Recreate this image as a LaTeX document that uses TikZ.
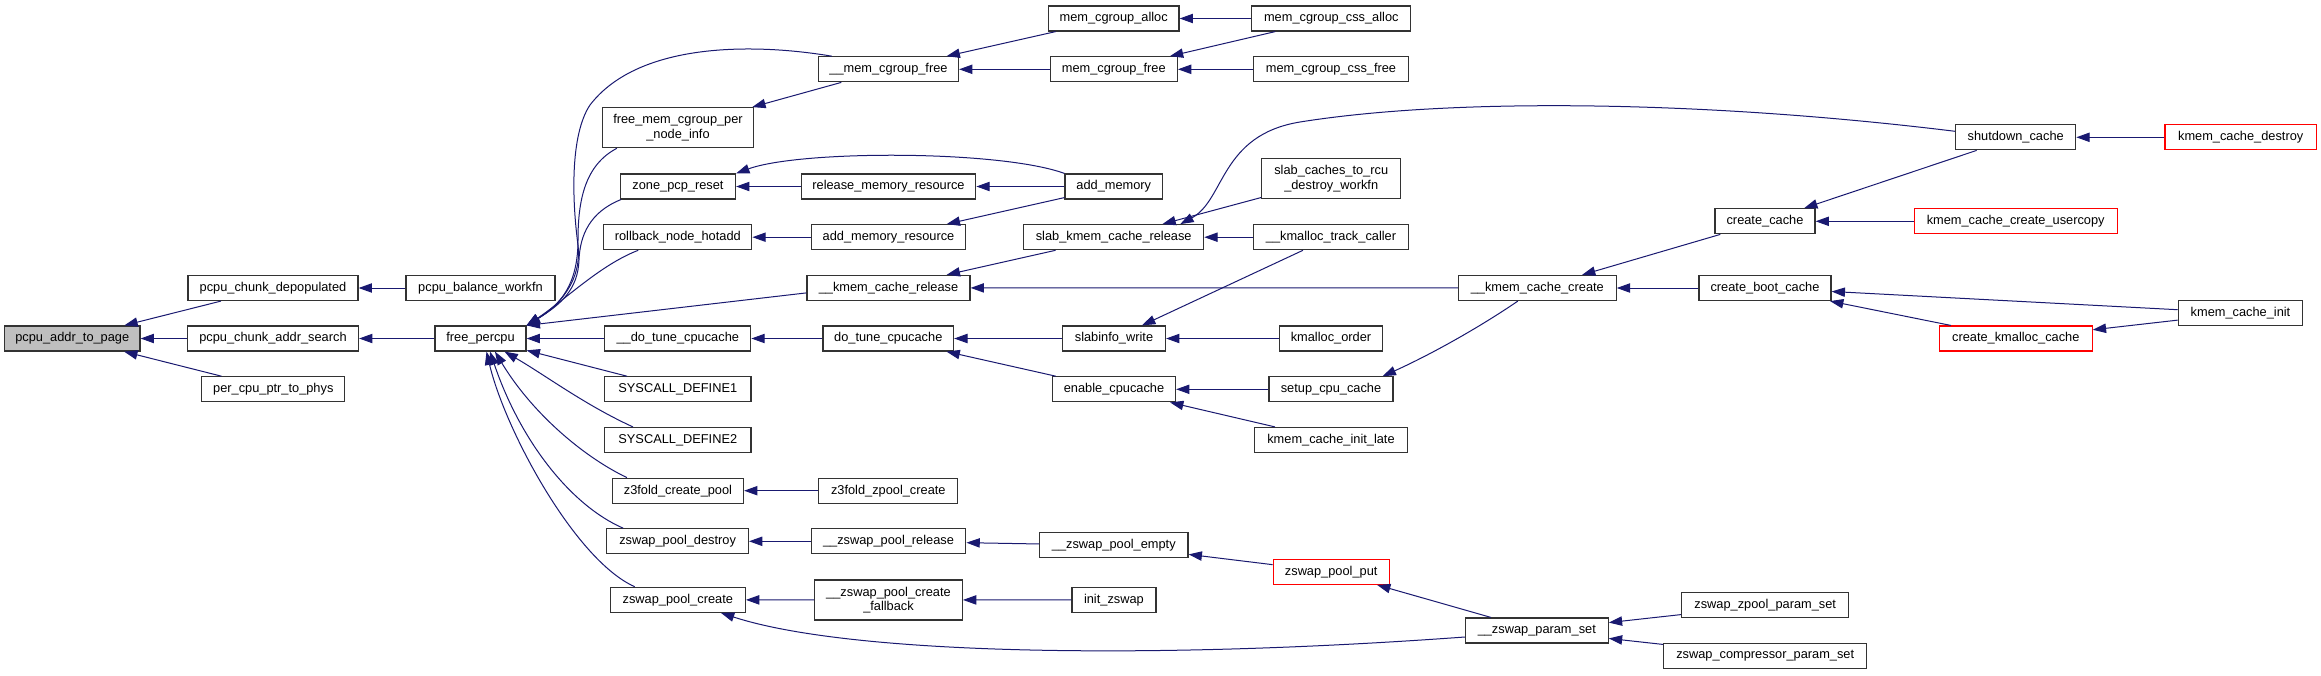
\documentclass[tikz,border=0pt]{standalone}
\usepackage{fontspec}
\setmainfont{Liberation Sans}
\usetikzlibrary{arrows.meta,calc}
\definecolor{fnedge}{HTML}{191970}
\definecolor{fnline}{HTML}{333333}
\definecolor{fnred}{HTML}{FF0000}
\definecolor{fngray}{HTML}{BFBFBF}
\tikzset{
  % One box per function; the root is grey, truncated callers are red.
  fn/.style     = {rectangle, draw=fnline, line width=0.9pt, fill=white, align=center,
                   inner sep=1pt, font=\fontsize{9.6}{10.8}\selectfont, minimum height=18.75pt},
  fnroot/.style = {fn, fill=fngray},
  fnlost/.style = {fn, draw=fnred},
  call/.style   = {-{Triangle[length=10pt,width=7pt]}, draw=fnedge, line width=0.75pt},
}

\begin{document}
\begin{tikzpicture}[x=0.75pt, y=-0.75pt]
\fill[white] (0,0) rectangle (2321,675);
\useasboundingbox (0,0) rectangle (2321,675);
% column 0 and 1
\node[fnroot, minimum width=101.6pt] (addr)     at (72.3,338.5)  {pcpu\_addr\_to\_page};
\node[fn, minimum width=127.5pt] (depop)        at (273,288)     {pcpu\_chunk\_depopulated};
\node[fn, minimum width=128.3pt] (search)       at (273,338.5)   {pcpu\_chunk\_addr\_search};
\node[fn, minimum width=107.3pt] (phys)         at (273.3,389.3) {per\_cpu\_ptr\_to\_phys};
\node[fn, minimum width=111.8pt] (balance)      at (480.5,288)   {pcpu\_balance\_workfn};
\node[fn, minimum width=68.3pt]  (freepcpu)     at (480.5,338.5) {free\_percpu};
% column 3
\node[fn, minimum width=113.3pt, minimum height=30pt] (pernode) at (678,127.7) {free\_mem\_cgroup\_per\\\_node\_info};
\node[fn, minimum width=86.3pt]  (zone)         at (678,186.5)   {zone\_pcp\_reset};
\node[fn, minimum width=111pt]   (rollback)     at (677.8,237.2) {rollback\_node\_hotadd};
\node[fn, minimum width=109.5pt] (dotune2)      at (677.8,338.5) {\_\_do\_tune\_cpucache};
\node[fn, minimum width=109.9pt] (sys1)         at (677.8,389.3) {SYSCALL\_DEFINE1};
\node[fn, minimum width=109.9pt] (sys2)         at (677.8,440)   {SYSCALL\_DEFINE2};
\node[fn, minimum width=98.3pt]  (z3create)     at (678,490.7)   {z3fold\_create\_pool};
\node[fn, minimum width=106.2pt] (zpdestroy)    at (677.6,541.3) {zswap\_pool\_destroy};
\node[fn, minimum width=101.3pt] (zpcreate)     at (677.8,599.8) {zswap\_pool\_create};
% column 4
\node[fn, minimum width=105pt]   (memfree2)     at (888.5,69.3)  {\_\_mem\_cgroup\_free};
\node[fn, minimum width=130.9pt] (relmem)       at (888.5,186.5) {release\_memory\_resource};
\node[fn, minimum width=116pt]   (addres)       at (888.5,237.2) {add\_memory\_resource};
\node[fn, minimum width=122.3pt] (kcrel)        at (888.5,287.9) {\_\_kmem\_cache\_release};
\node[fn, minimum width=97.9pt]  (dotune)       at (888.3,338.5) {do\_tune\_cpucache};
\node[fn, minimum width=104.3pt] (z3zpool)      at (888.3,490.7) {z3fold\_zpool\_create};
\node[fn, minimum width=116pt]   (zprel)        at (888.5,541.3) {\_\_zswap\_pool\_release};
\node[fn, minimum width=110.8pt, minimum height=30pt] (zpfallback) at (888.5,600) {\_\_zswap\_pool\_create\\\_fallback};
% column 5
\node[fn, minimum width=98pt]    (memalloc)     at (1113.7,18.5) {mem\_cgroup\_alloc};
\node[fn, minimum width=95.3pt]  (memfree)      at (1113.8,69.3) {mem\_cgroup\_free};
\node[fn, minimum width=73.2pt]  (addmem)       at (1113.8,186.5) {add\_memory};
\node[fn, minimum width=135pt]   (slabrel)      at (1113.7,237.2) {slab\_kmem\_cache\_release};
\node[fn, minimum width=77.3pt]  (slabinfo)     at (1114,338.5)  {slabinfo\_write};
\node[fn, minimum width=92.3pt]  (enable)       at (1114,389.3)  {enable\_cpucache};
\node[fn, minimum width=111.3pt] (zpempty)      at (1113.8,545.3) {\_\_zswap\_pool\_empty};
\node[fn, minimum width=63pt]    (initz)        at (1113.9,599.8) {init\_zswap};
% column 6
\node[fn, minimum width=119.3pt] (cssalloc)     at (1331.3,18.5) {mem\_cgroup\_css\_alloc};
\node[fn, minimum width=116pt]   (cssfree)      at (1331,69.3)   {mem\_cgroup\_css\_free};
\node[fn, minimum width=104.3pt, minimum height=30pt] (rcuwork) at (1331.2,178.7) {slab\_caches\_to\_rcu\\\_destroy\_workfn};
\node[fn, minimum width=116pt]   (kmtrack)      at (1331,237.2)  {\_\_kmalloc\_track\_caller};
\node[fn, minimum width=76.9pt]  (kmorder)      at (1331,338.5)  {kmalloc\_order};
\node[fn, minimum width=93pt]    (setupcpu)     at (1331,389.3)  {setup\_cpu\_cache};
\node[fn, minimum width=114.2pt] (initlate)     at (1331,440)    {kmem\_cache\_init\_late};
\node[fnlost, minimum width=87pt] (zpput)       at (1331.2,571.8) {zswap\_pool\_put};
% column 7 and 8
\node[fn, minimum width=118.3pt] (kccreate)     at (1537.3,288)  {\_\_kmem\_cache\_create};
\node[fn, minimum width=107.1pt] (zparam)       at (1536.8,630.5) {\_\_zswap\_param\_set};
\node[fn, minimum width=75pt]    (createcache)  at (1765,221.3)  {create\_cache};
\node[fn, minimum width=99pt]    (bootcache)    at (1765,288)    {create\_boot\_cache};
\node[fn, minimum width=125.3pt] (zpoolparam)   at (1765.2,605.3) {zswap\_zpool\_param\_set};
\node[fn, minimum width=152.3pt] (compparam)    at (1765.2,655.7) {zswap\_compressor\_param\_set};
% column 9 and 10
\node[fn, minimum width=90pt]    (shutdown)     at (2015.7,137.3) {shutdown\_cache};
\node[fnlost, minimum width=152.3pt] (usercopy) at (2015.7,221.3) {kmem\_cache\_create\_usercopy};
\node[fnlost, minimum width=114.5pt] (kmcache)  at (2015.8,338.5) {create\_kmalloc\_cache};
\node[fnlost, minimum width=113.7pt] (kcdestroy) at (2240.7,137.3) {kmem\_cache\_destroy};
\node[fn, minimum width=93.3pt]  (kcinit)       at (2240.5,313)  {kmem\_cache\_init};

% calls into the pcpu helpers
\draw[call] (depop) -- (addr);
\draw[call] (search) -- (addr);
\draw[call] (phys) -- (addr);
\draw[call] (balance) -- (depop);
\draw[call] (freepcpu) -- (search);
% callers of free_percpu
\draw[call] ($(memfree2.north west)+(14,0)$) .. controls (760,44) and (640,40) .. (590,105)
  .. controls (570,135) and (572,200) .. (578,245) .. controls (582,280) and (560,305) .. (freepcpu.north east);
\draw[call] ($(pernode.south west)+(15,0)$) .. controls (585,165) and (578,200) .. (578,240)
  .. controls (578,285) and (560,305) .. (freepcpu.north east);
\draw[call] ($(zone.south west)+(1,0)$) .. controls (590,212) and (580,235) .. (579,260)
  .. controls (578,290) and (560,305) .. (freepcpu.north east);
\draw[call] ($(rollback.south west)+(35,0)$) .. controls (600,265) and (565,300) .. (freepcpu.north east);
\draw[call] ($(kcrel.west)+(0,5)$) -- (freepcpu.north east);
\draw[call] (dotune2) -- (freepcpu);
\draw[call] (sys1) -- (freepcpu);
\draw[call] ($(sys2.north west)+(29,0)$) .. controls (585,405) and (545,375) .. ($(freepcpu.south)+(24,0)$);
\draw[call] ($(z3create.north west)+(15,0)$) .. controls (580,455) and (530,410) .. ($(freepcpu.south)+(14.5,0)$);
\draw[call] ($(zpdestroy.north west)+(17,0)$) .. controls (570,505) and (520,440) .. ($(freepcpu.south)+(9.5,0)$);
\draw[call] ($(zpcreate.north west)+(25,0)$) .. controls (575,560) and (505,430) .. ($(freepcpu.south)+(6,0)$);
% memcg branch
\draw[call] (memalloc) -- (memfree2);
\draw[call] (memfree) -- (memfree2);
\draw[call] (memfree2) -- (pernode);
\draw[call] (cssalloc) -- (memalloc);
\draw[call] (cssalloc) -- (memfree);
\draw[call] (cssfree) -- (memfree);
% memory hotplug branch
\draw[call] (addmem.north west) .. controls (1000,150) and (800,150) .. (zone.north east);
\draw[call] (relmem) -- (zone);
\draw[call] (addmem) -- (relmem);
\draw[call] (addmem) -- (addres);
\draw[call] (addres) -- (rollback);
% slab branch
\draw[call] (slabrel) -- (kcrel);
\draw[call] (kccreate) -- (kcrel);
\draw[call] ($(shutdown.west)+(0,-6)$) .. controls (1700,100) and (1450,98) .. (1300,122)
  .. controls (1220,135) and (1225,200) .. ($(slabrel.north east)+(-24,0)$);
\draw[call] (rcuwork) -- (slabrel);
\draw[call] (kmtrack) -- (slabrel);
\draw[call] (kmtrack) -- (slabinfo);
\draw[call] (dotune) -- (dotune2);
\draw[call] (slabinfo) -- (dotune);
\draw[call] (kmorder) -- (slabinfo);
\draw[call] (enable) -- (dotune);
\draw[call] (setupcpu) -- (enable);
\draw[call] (initlate) -- (enable);
\draw[call] ($(kccreate.south)+(-19.5,0)$) .. controls (1480,327) and (1430,355) .. ($(setupcpu.north east)+(-11,0)$);
\draw[call] (createcache) -- (kccreate);
\draw[call] (bootcache) -- (kccreate);
\draw[call] (shutdown) -- (createcache);
\draw[call] (usercopy) -- (createcache);
\draw[call] (kcdestroy) -- (shutdown);
\draw[call] (kcinit) -- (bootcache);
\draw[call] (kmcache) -- (bootcache);
\draw[call] (kcinit) -- (kmcache);
% zswap branch
\draw[call] (z3zpool) -- (z3create);
\draw[call] (zprel) -- (zpdestroy);
\draw[call] (zpempty) -- (zprel);
\draw[call] (zpput) -- (zpempty);
\draw[call] (zparam) -- (zpput);
\draw[call] (zpfallback) -- (zpcreate);
\draw[call] (initz) -- (zpfallback);
\draw[call] ($(zparam.west)+(0,6.5)$) .. controls (1150,660) and (850,655) .. ($(zpcreate.south east)+(-25,0)$);
\draw[call] (zpoolparam) -- (zparam);
\draw[call] (compparam) -- (zparam);
\end{tikzpicture}
\end{document}
